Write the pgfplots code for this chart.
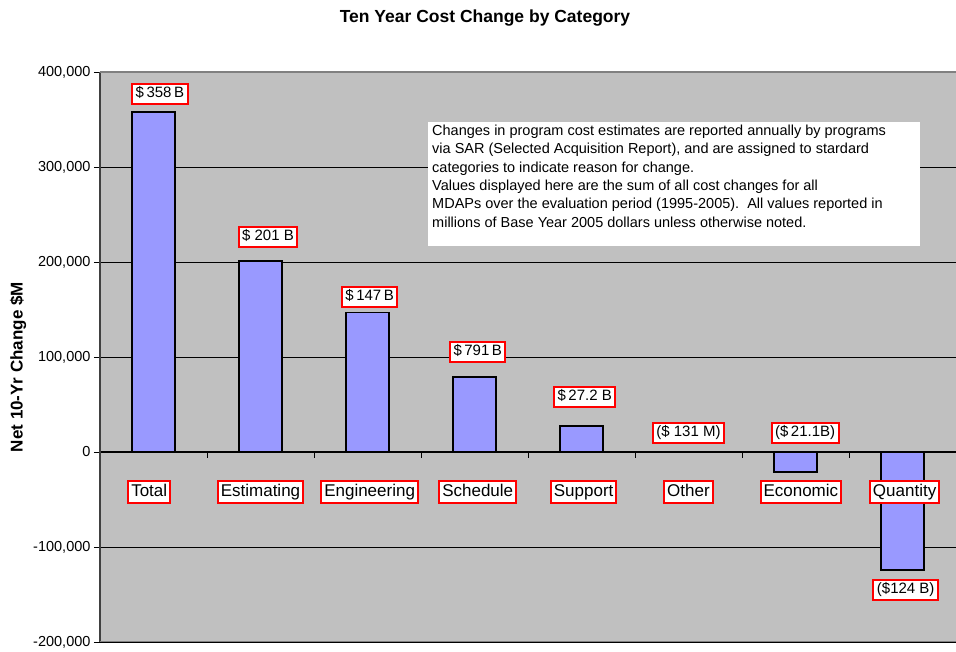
\documentclass[border=0pt]{standalone}
\usepackage{pgfplots}
\pgfplotsset{compat=1.18}
\usepackage{fontspec}
\setmainfont{Liberation Sans}
\definecolor{plotgray}{HTML}{C0C0C0}
\definecolor{barblue}{HTML}{9999FF}
\definecolor{bordergray}{HTML}{808080}
\definecolor{axisgray}{HTML}{404040}
\tikzset{
  vlab/.style={draw=red, line width=2pt, fill=white, inner xsep=3.5pt, inner ysep=2.5pt, text height=11pt, text depth=3.5pt, font=\fontsize{15}{17}\selectfont},
  clab/.style={draw=red, line width=2pt, fill=white, inner xsep=3pt, inner ysep=3pt, text height=12.5pt, text depth=4pt, font=\fontsize{17}{19}\selectfont},
}
\begin{document}
\begin{tikzpicture}[x=1pt,y=1pt]
\path[use as bounding box] (0,0) rectangle (956,652);
\begin{axis}[
  at={(100pt,10pt)}, anchor=south west,
  width=856pt, height=570pt, scale only axis,
  xmin=0.5, xmax=8.5, ymin=-200000, ymax=400000,
  axis background/.style={fill=plotgray},
  axis x line*=middle, axis y line*=left,
  x axis line style={black, line width=1pt},
  y axis line style={axisgray, line width=1.5pt},
  xtick={1.5,2.5,...,7.5}, xticklabels={},
  xtick align=outside, xtick style={black, line width=0.8pt},
  major tick length=6pt,
  scaled y ticks=false,
  ytick={-200000,-100000,0,100000,200000,300000,400000},
  yticklabels={{-200,000},{-100,000},0,{100,000},{200,000},{300,000},{400,000}},
  ytick align=outside, ytick style={black, line width=0.8pt},
  ymajorgrids, grid style={black, line width=0.8pt},
  yticklabel style={font=\fontsize{14.5}{16}\selectfont},
]
\addplot[ybar, bar width=43pt, fill=barblue, draw=black, line width=1.5pt]
  coordinates {(1,358000) (2,201000) (3,147000) (4,79100) (5,27200) (6,-131) (7,-21100) (8,-124000)};
\draw[bordergray, line width=2pt] (rel axis cs:0,1) -- (rel axis cs:1,1);
\draw[bordergray, line width=2pt] (rel axis cs:0,0) -- (rel axis cs:1,0);
% value labels
\node[vlab] at (axis cs:1.06,376800) {\$\,358\,B};
\node[vlab] at (axis cs:2.07,226300) {\$ 201 B};
\node[vlab] at (axis cs:3.02,163200) {\$\,147\,B};
\node[vlab] at (axis cs:4.03,105300) {\$\,791\,B};
\node[vlab] at (axis cs:5.03,57900) {\$\,27.2 B};
\node[vlab] at (axis cs:6.00,20000) {(\$ 131 M)};
\node[vlab] at (axis cs:7.09,20000) {(\$\,21.1B)};
\node[vlab] at (axis cs:8.03,-145300) {(\$124 B)};
% category labels
\node[clab] at (axis cs:0.96,-42100) {Total};
\node[clab] at (axis cs:2.00,-42100) {Estimating};
\node[clab] at (axis cs:3.02,-42100) {Engineering};
\node[clab] at (axis cs:4.03,-42100) {Schedule};
\node[clab] at (axis cs:5.02,-42100) {Support};
\node[clab] at (axis cs:6.00,-42100) {Other};
\node[clab] at (axis cs:7.05,-42100) {Economic};
\node[clab] at (axis cs:8.02,-42100) {Quantity};
\end{axis}
\fill[white] (428,406) rectangle (920,530);
\node[anchor=north west, align=left, inner sep=0pt, font=\fontsize{14.5}{18.3}\selectfont] at (432,527)
 {Changes in program cost estimates are reported annually by programs\\
  via SAR (Selected Acquisition Report), and are assigned to stardard\\
  categories to indicate reason for change.\\
  Values displayed here are the sum of all cost changes for all\\
  MDAPs over the evaluation period (1995-2005).\ \ All values reported in\\
  millions of Base Year 2005 dollars unless otherwise noted.};
\node[font=\bfseries\fontsize{17.5}{19}\selectfont] at (485,634) {Ten Year Cost Change by Category};
\node[font=\bfseries\fontsize{17}{19}\selectfont, rotate=90] at (18,285) {Net 10-Yr Change \$M};
\end{tikzpicture}
\end{document}
